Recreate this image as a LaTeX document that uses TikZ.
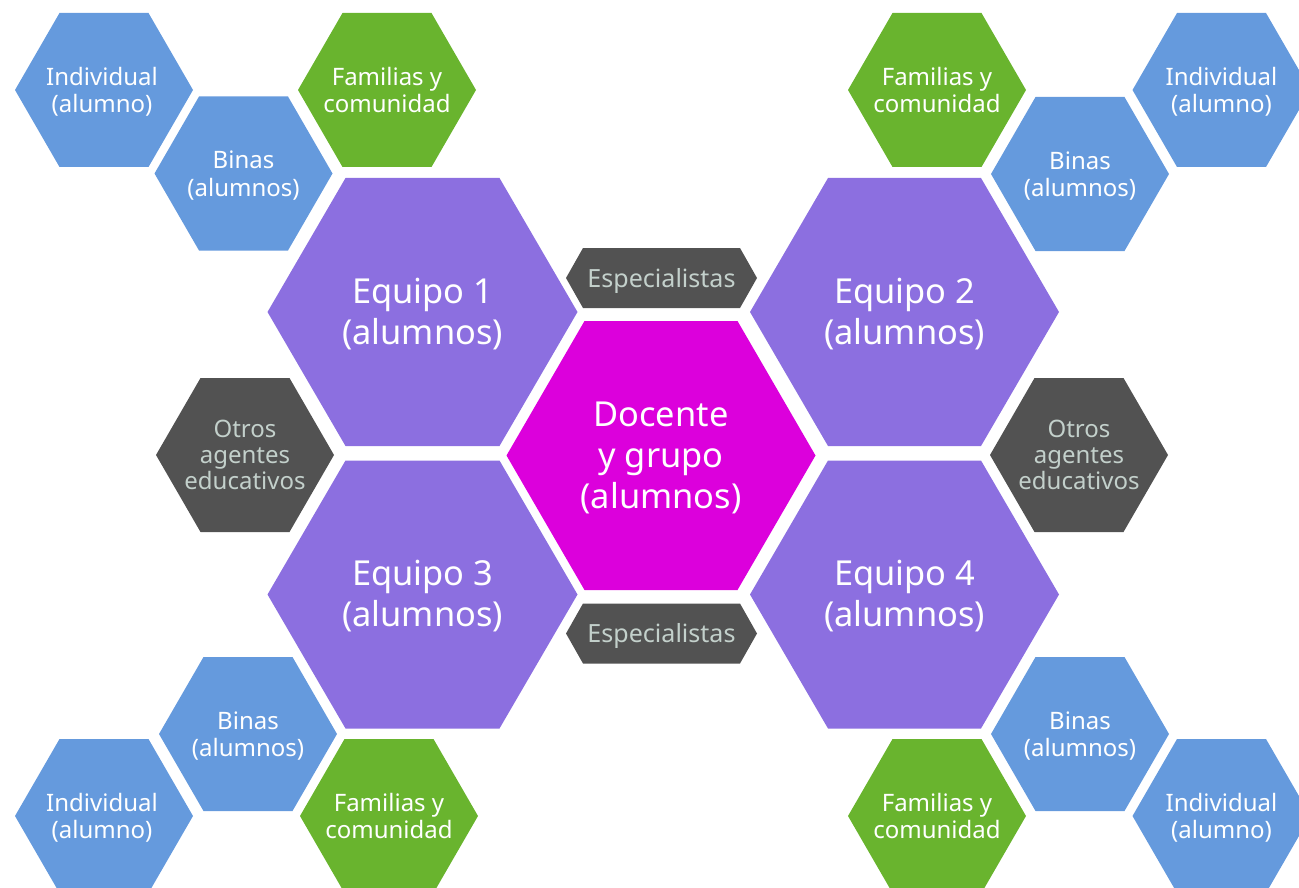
\documentclass[tikz,border=0pt]{standalone}
\usepackage{fontspec}
\setmainfont{Noto Sans}
\definecolor{cblue}{HTML}{659ADD}
\definecolor{cgreen}{HTML}{69B42E}
\definecolor{cpurple}{HTML}{8C6FE0}
\definecolor{cmagenta}{HTML}{DC00DC}
\definecolor{cdark}{HTML}{525252}
\definecolor{cpale}{HTML}{C3D0CB}
\tikzset{
  txtsmall/.style={align=center,inner sep=0pt,text=white,yshift=-3pt,font=\fontsize{18}{19.2}\selectfont},
  txtbig/.style={align=center,inner sep=0pt,text=white,yshift=-2.6pt,font=\fontsize{25.8}{30.75}\selectfont},
  txtdark/.style={align=center,inner sep=0pt,text=cpale,yshift=-2.6pt,font=\fontsize{18}{19.2}\selectfont},
  txtesp/.style={txtdark,font=\fontsize{18.8}{19.2}\selectfont},
}
% name, cx, cy, half width, inset, half height, colour, text style, text
\newcommand{\hexa}[9]{%
  \fill[#7] (#2-#4,#3) -- (#2-#4+#5,#3-#6) -- (#2+#4-#5,#3-#6) -- (#2+#4,#3)
     -- (#2+#4-#5,#3+#6) -- (#2-#4+#5,#3+#6) -- cycle;
  \node[#8] (#1) at (#2,#3) {\strut #9\strut};}
\begin{document}
\begin{tikzpicture}[x=0.75pt,y=-0.75pt]
\useasboundingbox (0,0) rectangle (1299,888);
\clip (0,0) rectangle (1299,888);
% small top-left
\hexa{indTL}{104}{90}{89}{44.5}{77}{cblue}{txtsmall,xshift=-1.5pt}{Individual\\(alumno)}
\hexa{binTL}{243.5}{173.5}{89}{44.5}{77}{cblue}{txtsmall}{Binas\\(alumnos)}
\hexa{famTL}{387}{90}{89}{44.5}{77}{cgreen}{txtsmall}{Familias y\\comunidad}
% small top-right
\hexa{famTR}{937}{90}{89}{44.5}{77}{cgreen}{txtsmall}{Familias y\\comunidad}
\hexa{binTR}{1080}{174}{89}{44.5}{77}{cblue}{txtsmall}{Binas\\(alumnos)}
\hexa{indTR}{1221.5}{90}{89}{44.5}{77}{cblue}{txtsmall}{Individual\\(alumno)}
% teams
\hexa{eq1}{422.5}{312}{155}{78}{134}{cpurple}{txtbig}{Equipo 1\\(alumnos)}
\hexa{eq2}{904.5}{312}{154.5}{78}{134}{cpurple}{txtbig}{Equipo 2\\(alumnos)}
\hexa{eq3}{422.5}{594.5}{155}{78}{134}{cpurple}{txtbig}{Equipo 3\\(alumnos)}
\hexa{eq4}{904.5}{594.5}{154.5}{78}{134}{cpurple}{txtbig}{Equipo 4\\(alumnos)}
% centre
\hexa{doc}{661}{455.5}{154.5}{78}{134.5}{cmagenta}{txtbig}{Docente\\y grupo\\(alumnos)}
% dark
\hexa{espT}{661.5}{278}{95.5}{17}{30}{cdark}{txtesp}{Especialistas}
\hexa{espB}{661.5}{633.5}{95.5}{17}{30}{cdark}{txtesp}{Especialistas}
\hexa{otrL}{245}{455}{89}{44.5}{77}{cdark}{txtdark}{Otros\\agentes\\educativos}
\hexa{otrR}{1079}{455}{89}{44.5}{77}{cdark}{txtdark}{Otros\\agentes\\educativos}
% small bottom-left
\hexa{binBL}{248}{734}{89}{44.5}{77}{cblue}{txtsmall}{Binas\\(alumnos)}
\hexa{indBL}{104}{816}{89}{44.5}{77}{cblue}{txtsmall,xshift=-1.5pt}{Individual\\(alumno)}
\hexa{famBL}{389}{816}{89}{44.5}{77}{cgreen}{txtsmall}{Familias y\\comunidad}
% small bottom-right
\hexa{binBR}{1080}{734}{89}{44.5}{77}{cblue}{txtsmall}{Binas\\(alumnos)}
\hexa{famBR}{937}{816}{89}{44.5}{77}{cgreen}{txtsmall}{Familias y\\comunidad}
\hexa{indBR}{1221.5}{816}{89}{44.5}{77}{cblue}{txtsmall}{Individual\\(alumno)}
\end{tikzpicture}
\end{document}
